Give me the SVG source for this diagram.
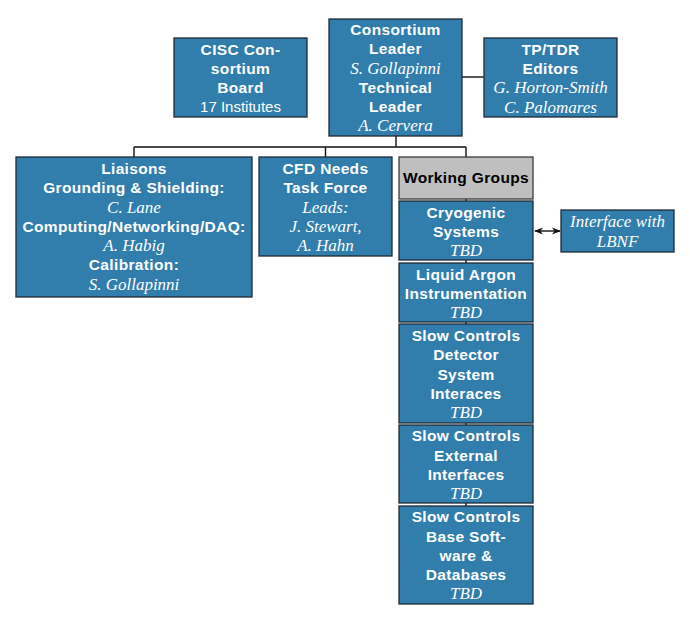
<svg xmlns="http://www.w3.org/2000/svg" width="690" height="621" viewBox="0 0 690 621">
<style>
.box{fill:#317DAB;stroke:#1e2a36;stroke-width:1.3}
.grey{fill:#BFBFBF;stroke:#3a3a3a;stroke-width:1.3}
.b{font-family:"Liberation Sans",Arial,sans-serif;font-weight:bold;font-size:15.5px;letter-spacing:0.35px;fill:#fff;text-anchor:middle}
.r{font-family:"Liberation Sans",Arial,sans-serif;font-size:15px;fill:#fff;text-anchor:middle}
.i{font-family:"Liberation Serif","Times New Roman",serif;font-style:italic;font-size:17px;fill:#fff;text-anchor:middle}
.dark{fill:#000}
.conn{fill:none;stroke:#111;stroke-width:1.4}
</style>
<defs>
<marker id="ah" viewBox="0 0 10 10" refX="9" refY="5" markerWidth="9" markerHeight="9" markerUnits="userSpaceOnUse" orient="auto-start-reverse">
<path d="M0,1 L10,5 L0,9 L3,5 Z" fill="#111"/>
</marker>
</defs>
<rect width="690" height="621" fill="#fff"/>
<g id="connectors">
<path class="conn" d="M462,77 H484"/>
<path class="conn" d="M396,136 V147 M134,147 H466 M134,147 V157 M325.5,147 V157 M466,147 V157"/>
<path class="conn" d="M466,199 V201 M466,260 V263 M466,322 V324 M466,423 V425 M466,503 V506"/>
<path class="conn" d="M535,231 H560" marker-start="url(#ah)" marker-end="url(#ah)"/>
</g>
<g id="cisc-board">
<rect class="box" x="174" y="38" width="133" height="79"/>
<text class="b" x="240.5" y="54.5">CISC Con-</text>
<text class="b" x="240.5" y="74">sortium</text>
<text class="b" x="240.5" y="93">Board</text>
<text class="r" x="240.5" y="112">17 Institutes</text>
</g>
<g id="consortium-leader">
<rect class="box" x="329" y="19" width="133" height="117"/>
<text class="b" x="395.5" y="35">Consortium</text>
<text class="b" x="395.5" y="54">Leader</text>
<text class="i" x="395.5" y="74">S. Gollapinni</text>
<text class="b" x="395.5" y="93">Technical</text>
<text class="b" x="395.5" y="112">Leader</text>
<text class="i" x="395.5" y="131">A. Cervera</text>
</g>
<g id="tp-tdr-editors">
<rect class="box" x="484" y="38" width="133" height="79"/>
<text class="b" x="550.5" y="54.5">TP/TDR</text>
<text class="b" x="550.5" y="74">Editors</text>
<text class="i" x="550.5" y="93">G. Horton-Smith</text>
<text class="i" x="550.5" y="112.5">C. Palomares</text>
</g>
<g id="liaisons">
<rect class="box" x="16" y="157" width="236" height="140"/>
<text class="b" x="134" y="174">Liaisons</text>
<text class="b" x="134" y="193">Grounding &amp; Shielding:</text>
<text class="i" x="134" y="212.5">C. Lane</text>
<text class="b" x="134" y="231.5">Computing/Networking/DAQ:</text>
<text class="i" x="134" y="251">A. Habig</text>
<text class="b" x="134" y="270">Calibration:</text>
<text class="i" x="134" y="289.5">S. Gollapinni</text>
</g>
<g id="cfd-task-force">
<rect class="box" x="259" y="157" width="133" height="99"/>
<text class="b" x="325.5" y="174">CFD Needs</text>
<text class="b" x="325.5" y="193">Task Force</text>
<text class="i" x="325.5" y="212.5">Leads:</text>
<text class="i" x="325.5" y="232">J. Stewart,</text>
<text class="i" x="325.5" y="251">A. Hahn</text>
</g>
<g id="working-groups">
<rect class="grey" x="399" y="157" width="134" height="42"/>
<text class="b dark" x="466" y="183">Working Groups</text>
</g>
<g id="cryogenic-systems">
<rect class="box" x="399" y="201" width="134" height="59"/>
<text class="b" x="466" y="218">Cryogenic</text>
<text class="b" x="466" y="237">Systems</text>
<text class="i" x="466" y="256">TBD</text>
</g>
<g id="interface-lbnf">
<rect class="box" x="561" y="210" width="113" height="42"/>
<text class="i" x="617.5" y="227">Interface with</text>
<text class="i" x="617.5" y="246.5">LBNF</text>
</g>
<g id="liquid-argon">
<rect class="box" x="399" y="263" width="134" height="59"/>
<text class="b" x="466" y="279.5">Liquid Argon</text>
<text class="b" x="466" y="299">Instrumentation</text>
<text class="i" x="466" y="318">TBD</text>
</g>
<g id="sc-detector">
<rect class="box" x="399" y="324" width="134" height="99"/>
<text class="b" x="466" y="341">Slow Controls</text>
<text class="b" x="466" y="360">Detector</text>
<text class="b" x="466" y="380">System</text>
<text class="b" x="466" y="399">Interaces</text>
<text class="i" x="466" y="418">TBD</text>
</g>
<g id="sc-external">
<rect class="box" x="399" y="425" width="134" height="78"/>
<text class="b" x="466" y="441">Slow Controls</text>
<text class="b" x="466" y="461">External</text>
<text class="b" x="466" y="480">Interfaces</text>
<text class="i" x="466" y="498.5">TBD</text>
</g>
<g id="sc-base">
<rect class="box" x="399" y="506" width="134" height="98"/>
<text class="b" x="466" y="522">Slow Controls</text>
<text class="b" x="466" y="541.5">Base Soft-</text>
<text class="b" x="466" y="561">ware &amp;</text>
<text class="b" x="466" y="580">Databases</text>
<text class="i" x="466" y="599">TBD</text>
</g>
</svg>
